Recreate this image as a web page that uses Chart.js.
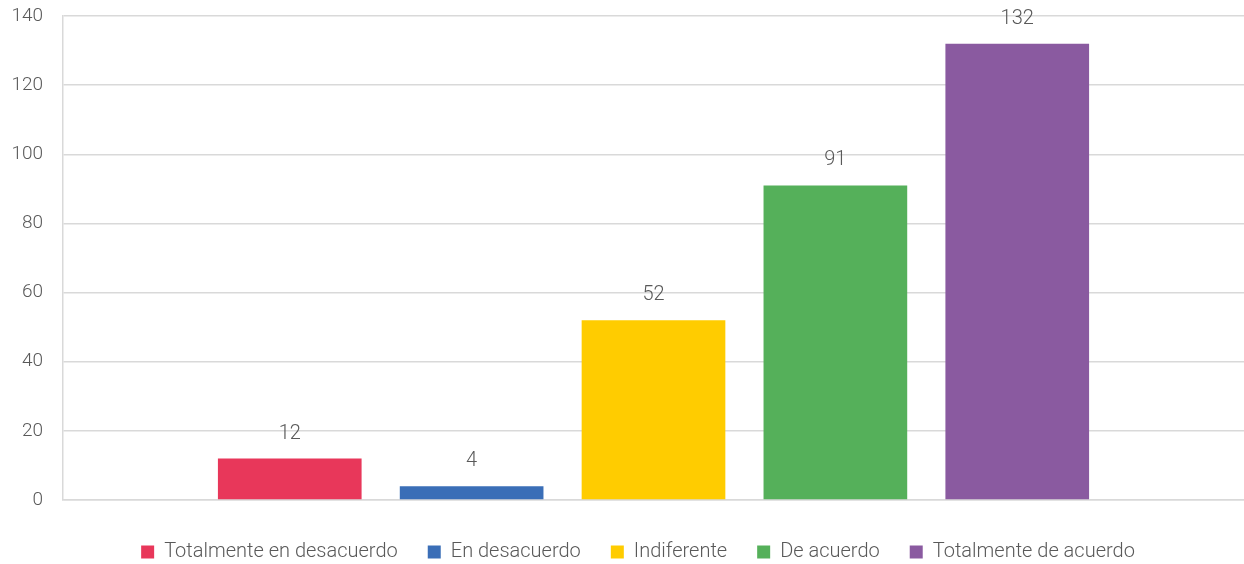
<!DOCTYPE html>
<html>
<head>
<meta charset="utf-8">
<script src="https://cdn.jsdelivr.net/npm/chart.js@4"></script>
<style>
  html, body { margin: 0; padding: 0; background: #fff; }
  #wrap { width: 1244px; height: 564px; position: relative; }
</style>
</head>
<body>
<div id="wrap"><canvas id="chart1"></canvas></div>
<script>
// data
const seriesNames = ['Totalmente en desacuerdo', 'En desacuerdo', 'Indiferente', 'De acuerdo', 'Totalmente de acuerdo'];
const seriesValues = [12, 4, 52, 91, 132];
const seriesColors = ['#E8375A', '#3A6EB7', '#FFCC00', '#55B05A', '#8A5AA0'];
const categories = [''];

const FONT = "Roboto, 'Liberation Sans', sans-serif";
const TEXT = '#595959';
const GRID = '#d9d9d9';

let datasets = [];
for (let i = 0; i < seriesNames.length; i++) {
  datasets.push({
    label: seriesNames[i],
    data: [seriesValues[i]],
    backgroundColor: seriesColors[i],
    borderWidth: 0,
    categoryPercentage: 0.77,
    barPercentage: 0.79
  });
}

// value labels above each bar
const valueLabels = {
  id: 'valueLabels',
  afterDatasetsDraw(chart) {
    const ctx = chart.ctx;
    ctx.save();
    ctx.font = '300 20px ' + FONT;
    ctx.fillStyle = TEXT;
    ctx.textAlign = 'center';
    ctx.textBaseline = 'middle';
    chart.data.datasets.forEach(function(ds, i) {
      const meta = chart.getDatasetMeta(i);
      meta.data.forEach(function(bar, j) {
        ctx.fillText(ds.data[j], bar.x, bar.y - 25);
      });
    });
    ctx.restore();
  }
};

// the legend in the original sits a bit right of centre
const legendShift = {
  id: 'legendShift',
  afterLayout(chart) {
    if (chart.legend) chart.legend.left += 32;
  }
};

const ctx = document.getElementById('chart1').getContext('2d');
const chart1 = new Chart(ctx, {
  type: 'bar',
  data: {
    labels: categories,
    datasets: datasets
  },
  plugins: [valueLabels, legendShift],
  options: {
    responsive: true,
    maintainAspectRatio: false,
    animation: false,
    layout: {
      padding: { top: 3, right: 0, bottom: -8, left: 0 }
    },
    plugins: {
      tooltip: { enabled: false },
      legend: {
        position: 'bottom',
        labels: {
          color: TEXT,
          font: { family: FONT, size: 20, weight: 300 },
          boxWidth: 13,
          boxHeight: 13,
          padding: 30
        }
      }
    },
    scales: {
      x: {
        grid: { display: false, drawTicks: false },
        border: { display: true, color: GRID, width: 1.5 },
        ticks: { display: false },
        afterFit: function(axis) { axis.height = 12; }
      },
      y: {
        min: 0,
        max: 140,
        ticks: {
          stepSize: 20,
          color: TEXT,
          font: { family: FONT, size: 19, weight: 300 },
          padding: 20
        },
        grid: { color: GRID, lineWidth: 1.5, drawTicks: false },
        border: { display: true, color: GRID, width: 1.5 },
        afterFit: function(axis) {
          axis.width = 63;
          axis.paddingTop = 16;
          axis.paddingBottom = 0;
        }
      }
    }
  }
});
</script>
</body>
</html>
